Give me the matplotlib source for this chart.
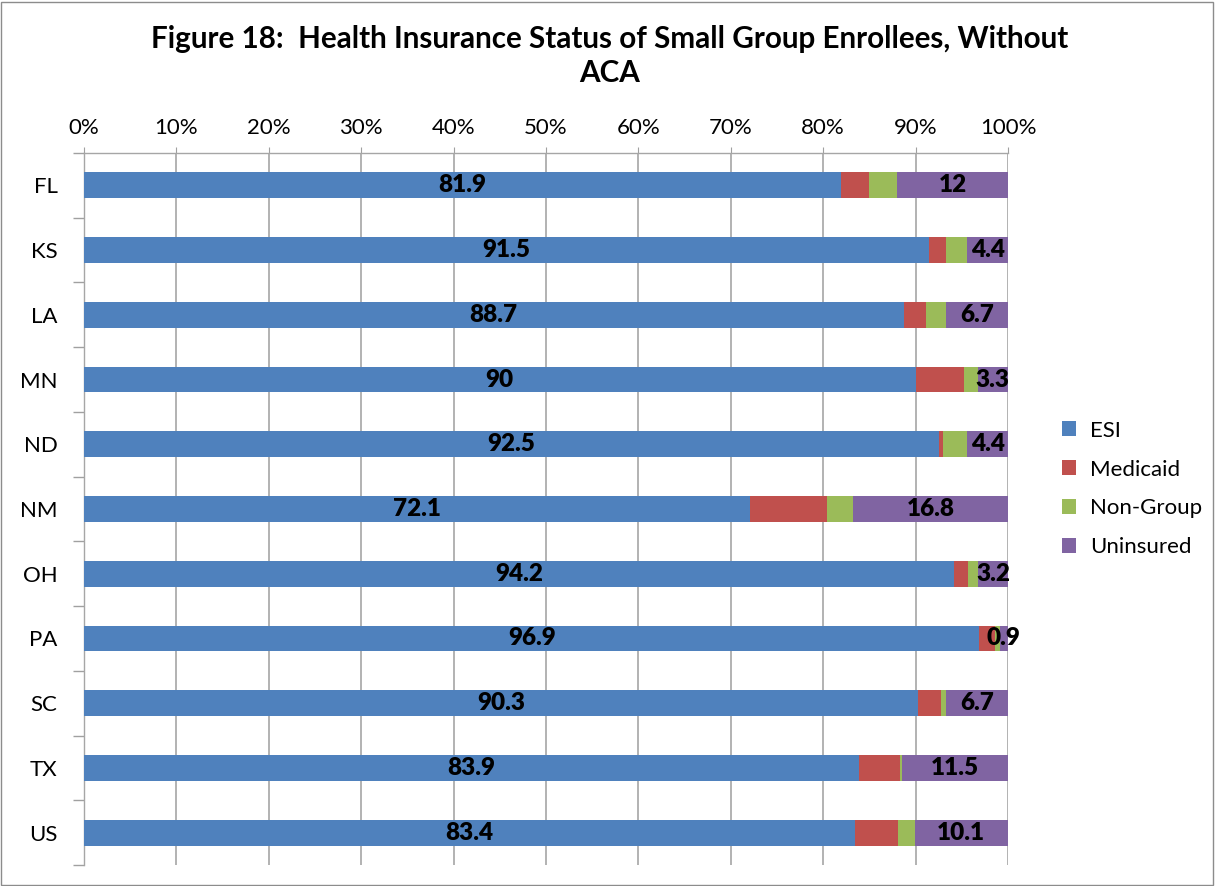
import matplotlib
matplotlib.use("Agg")
import matplotlib.pyplot as plt
from matplotlib.patches import Rectangle
from matplotlib.ticker import FixedLocator, PercentFormatter
import numpy as np

plt.rcParams['font.family'] = ['Lato', 'DejaVu Sans']

states = ["FL", "KS", "LA", "MN", "ND", "NM", "OH", "PA", "SC", "TX", "US"]
esi = [81.9, 91.5, 88.7, 90, 92.5, 72.1, 94.2, 96.9, 90.3, 83.9, 83.4]
medicaid = [3.1, 1.8, 2.4, 5.2, 0.5, 8.3, 1.5, 1.7, 2.4, 4.4, 4.7]
nongroup = [3.0, 2.3, 2.2, 1.5, 2.6, 2.8, 1.1, 0.5, 0.6, 0.2, 1.8]
uninsured = [12, 4.4, 6.7, 3.3, 4.4, 16.8, 3.2, 0.9, 6.7, 11.5, 10.1]
esi_labels = ["81.9", "91.5", "88.7", "90", "92.5", "72.1", "94.2", "96.9", "90.3", "83.9", "83.4"]
unins_labels = ["12", "4.4", "6.7", "3.3", "4.4", "16.8", "3.2", "0.9", "6.7", "11.5", "10.1"]

series = [("ESI", esi, "#4F81BD"), ("Medicaid", medicaid, "#C0504D"),
          ("Non-Group", nongroup, "#9BBB59"), ("Uninsured", uninsured, "#8064A2")]

W, H = 1215, 886
fig = plt.figure(figsize=(W / 100, H / 100), dpi=100)
fig.patches.append(Rectangle((1 / W, 1 / H), 1 - 3 / W, 1 - 3 / H, transform=fig.transFigure,
                             fill=False, edgecolor="#8C8C8C", linewidth=1.0))

ax = fig.add_axes([84 / W, 1 - 865 / H, 924 / W, (865 - 153) / H])
y = np.arange(len(states))
left = np.zeros(len(states))
totals = np.array(esi) + np.array(medicaid) + np.array(nongroup) + np.array(uninsured)
for name, vals, col in series:
    v = np.array(vals) / totals * 100
    ax.barh(y, v, left=left, height=0.4, color=col, label=name, zorder=3)
    if name == "ESI":
        for yi, l, w, t in zip(y, left, v, esi_labels):
            ax.text(l + w / 2, yi, t, ha="center", va="center", fontsize=17.5,
                    fontweight="heavy", color="black", zorder=4)
    if name == "Uninsured":
        for yi, l, w, t in zip(y, left, v, unins_labels):
            ax.text(l + w / 2, yi, t, ha="center", va="center", fontsize=17.5,
                    fontweight="heavy", color="black", zorder=4)
    left = left + v

ax.set_xlim(0, 100)
ax.set_ylim(len(states) - 0.5, -0.5)
ax.xaxis.tick_top()
ax.set_xticks(np.arange(0, 101, 10))
ax.xaxis.set_major_formatter(PercentFormatter(decimals=0))
ax.tick_params(axis="x", which="major", length=4, color="#A0A0A0", labelsize=16, pad=7)
ax.set_yticks(y)
ax.set_yticklabels(states)
ax.tick_params(axis="y", which="major", length=0, labelsize=16, pad=19)
ax.yaxis.set_minor_locator(FixedLocator(np.arange(-0.5, len(states), 1.0)))
ax.tick_params(axis="y", which="minor", length=8, color="#A0A0A0", width=1)
ax.grid(axis="x", color="#A6A6A6", linewidth=1.2, zorder=0)
for s in ["right", "bottom"]:
    ax.spines[s].set_visible(False)
for s in ["left", "top"]:
    ax.spines[s].set_color("#A6A6A6")
    ax.spines[s].set_linewidth(1.0)

fig.text(610 / W, 1 - 56 / H, "Figure 18:  Health Insurance Status of Small Group Enrollees, Without\nACA",
         ha="center", va="center", fontsize=21.3, fontweight="bold", linespacing=1.3)

handles, labels = ax.get_legend_handles_labels()
leg = fig.legend(handles, labels, loc="center left", bbox_to_anchor=(1062 / W, 1 - 489 / H),
                 frameon=False, fontsize=16, handlelength=0.65, handleheight=0.65,
                 labelspacing=0.85, handletextpad=0.6, borderaxespad=0, borderpad=0)

fig.savefig("out.png", dpi=100)
